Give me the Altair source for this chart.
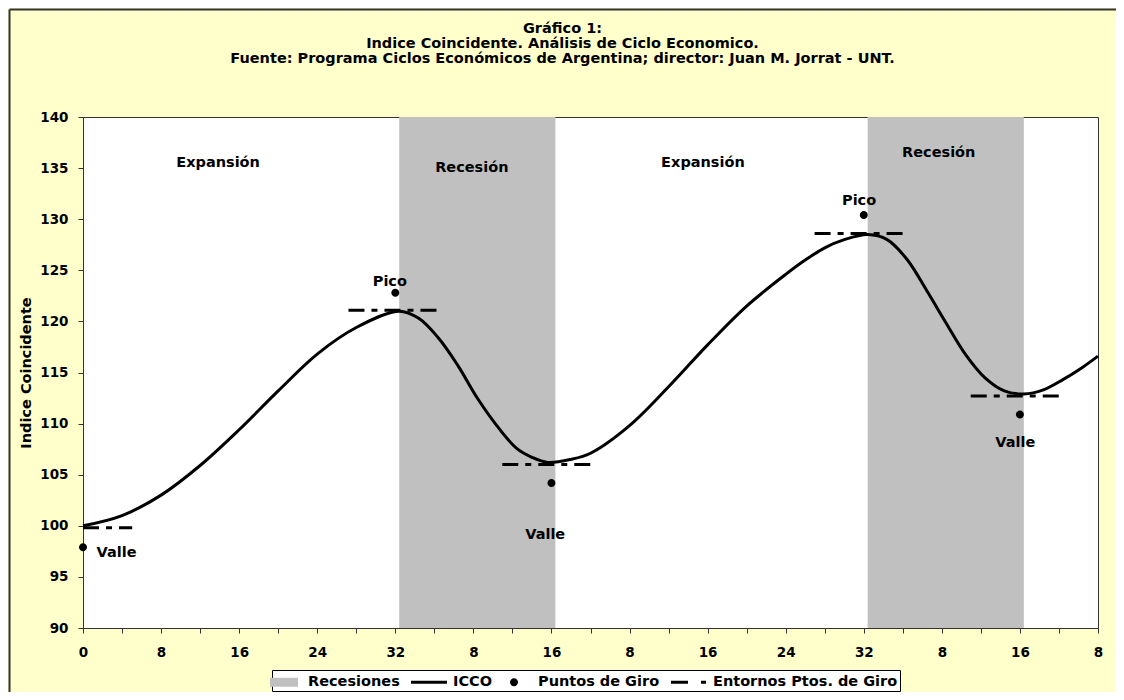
import altair as alt
import pandas as pd

FONT = "DejaVu Sans"

# ---- data ----
x_tick_labels = ["0", "8", "16", "24", "32", "8", "16", "8", "16", "24", "32", "8", "16", "8"]

icco_x = [0, 0.5, 1, 1.5, 2, 2.5, 3, 3.5, 4.05, 4.3, 4.55, 4.8, 5.05, 5.3, 5.55, 5.75, 5.95,
          6.25, 6.5, 7, 7.5, 8, 8.5, 9, 9.25, 9.5, 9.75, 10.05, 10.3, 10.55, 10.8, 11.05,
          11.3, 11.55, 11.8, 12.05, 12.3, 12.55, 12.8, 13]
icco_y = [100.0, 101.0, 103.0, 105.9, 109.4, 113.2, 116.8, 119.4, 121.0, 120.3, 118.4, 115.7,
          112.5, 109.8, 107.6, 106.7, 106.2, 106.5, 107.1, 109.8, 113.6, 117.7, 121.5, 124.6,
          126.0, 127.2, 128.0, 128.5, 128.0, 126.1, 123.1, 119.9, 116.8, 114.5, 113.2, 112.9,
          113.3, 114.3, 115.5, 116.6]

rec_start = [4.05, 10.05]
rec_end = [6.05, 12.05]

pts_x = [0, 4, 6, 10, 12]
pts_y = [97.9, 122.8, 104.2, 130.4, 110.9]

ent_x1 = [0, 3.4, 5.37, 9.37, 11.37]
ent_x2 = [0.63, 4.57, 6.57, 10.56, 12.57]
ent_y = [99.8, 121.1, 106.0, 128.6, 112.7]

phase_text = ["Expansión", "Recesión", "Expansión", "Recesión"]
phase_x = [1.73, 4.98, 7.94, 10.96]
phase_y = [135.5, 135.0, 135.5, 136.5]

tp_text = ["Valle", "Pico", "Valle", "Pico", "Valle"]
tp_x = [0.43, 3.93, 5.92, 9.94, 11.94]
tp_y = [97.3, 123.9, 99.1, 131.8, 108.1]

legend_names = ["Recesiones", "ICCO", "Puntos de Giro", "Entornos Ptos. de Giro"]
legend_colors = ["#C0C0C0", "#000000", "#000000", "#000000"]
legend_paths = [
    "M-1.4,-0.45H1.4V0.45H-1.4Z",
    "M-1.8,-0.15H1.8V0.15H-1.8Z",
    "M-0.4,0A0.4,0.4,0,1,0,0.4,0A0.4,0.4,0,1,0,-0.4,0Z",
    "M-1.8,-0.15H-0.1V0.15H-1.8Z M1.2,-0.15H1.7V0.15H1.2Z",
]

title_lines = [
    "Gráfico 1:",
    "Indice Coincidente. Análisis de Ciclo Economico.",
    "Fuente: Programa Ciclos Económicos de Argentina; director: Juan M. Jorrat - UNT.",
]

# ---- tables ----
bands = pd.DataFrame({"inicio": rec_start, "fin": rec_end})
icco = pd.DataFrame({"x": icco_x, "y": icco_y})
pts = pd.DataFrame({"x": pts_x, "y": pts_y, "serie": ["Puntos de Giro"] * len(pts_x)})
ent = pd.DataFrame({"x": ent_x1, "x2": ent_x2, "y": ent_y})
phases = pd.DataFrame({"x": phase_x, "y": phase_y, "t": phase_text})
tps = pd.DataFrame({"x": tp_x, "y": tp_y, "t": tp_text})
one = pd.DataFrame({"k": [0]})

W, H = 1015, 511

xs = alt.Scale(domain=[0, 13], nice=False, zero=False)
ys = alt.Scale(domain=[90, 140], nice=False, zero=False)

labels_js = "[" + ",".join("'" + s + "'" for s in x_tick_labels) + "]"
x_axis = alt.Axis(
    values=[i / 2 for i in range(27)],
    labelExpr=f"datum.value % 1 == 0 ? {labels_js}[datum.value] : ''",
    title=None, grid=False, tickSize=5, labelPadding=12, labelOverlap=False,
    labelFlush=False, labelBound=False,
)
y_axis = alt.Axis(
    values=list(range(90, 141, 5)), format="d", title="Indice Coincidente", grid=False,
    tickSize=5, labelPadding=10, titleX=-57, titleY=H / 2, titleAngle=270,
    titleAlign="center", titleBaseline="middle", labelOverlap=False,
)

X = lambda f: alt.X(f, scale=xs, axis=x_axis)
Y = lambda f: alt.Y(f, scale=ys, axis=y_axis)

band_layer = alt.Chart(bands).mark_rect(color="#C0C0C0").encode(
    x=X("inicio:Q"), x2="fin:Q"
)

phase_layer = alt.Chart(phases).mark_text(
    font=FONT, fontSize=14.5, fontWeight="bold", color="black"
).encode(x=X("x:Q"), y=Y("y:Q"), text="t:N")

ent_layer = alt.Chart(ent).mark_rule(
    color="black", strokeWidth=3, strokeDash=[16, 7, 6, 7]
).encode(x=X("x:Q"), x2="x2:Q", y=Y("y:Q"))

line_layer = alt.Chart(icco).mark_line(
    color="black", strokeWidth=3, interpolate="catmull-rom"
).encode(x=X("x:Q"), y=Y("y:Q"))

legend = alt.Legend(
    title=None, orient="none", legendX=189, legendY=553, direction="horizontal",
    columns=4, symbolSize=400, symbolStrokeWidth=0, symbolOpacity=1,
    labelFont=FONT, labelFontSize=14.5, labelFontWeight="bold", labelColor="black",
    labelOffset=14, columnPadding=11, padding=2, strokeColor="black",
    fillColor="white", cornerRadius=0, labelLimit=400,
)

pts_layer = alt.Chart(pts).mark_point(filled=True, size=400, opacity=1).encode(
    x=X("x:Q"), y=Y("y:Q"),
    color=alt.Color("serie:N", scale=alt.Scale(domain=legend_names, range=legend_colors), legend=legend),
    shape=alt.Shape("serie:N", scale=alt.Scale(domain=legend_names, range=legend_paths), legend=legend),
)

tp_layer = alt.Chart(tps).mark_text(
    font=FONT, fontSize=14.5, fontWeight="bold", color="black"
).encode(x=X("x:Q"), y=Y("y:Q"), text="t:N")

frame_top = alt.Chart(one).mark_rule(color="#333333", strokeWidth=2).encode(
    x=alt.value(-73.5), x2=alt.value(W + 18), y=alt.value(-107.5)
)
frame_left = alt.Chart(one).mark_rule(color="#333333", strokeWidth=2).encode(
    x=alt.value(-73.5), y=alt.value(-107.5), y2=alt.value(H + 64)
)

chart = alt.layer(
    band_layer, phase_layer, ent_layer, line_layer, pts_layer, tp_layer, frame_top, frame_left
).properties(
    width=W, height=H,
    autosize=alt.AutoSizeParams(type="none"),
    padding={"left": 75, "top": 109, "right": 18, "bottom": 64},
    background="#FFFFCC",
    title=alt.TitleParams(
        text=title_lines, font=FONT, fontSize=14.5, fontWeight="bold", color="black",
        anchor="middle", dx=-28, offset=-57.5, lineHeight=15,
    ),
).configure_view(
    fill="white", stroke="#333333", strokeWidth=1
).configure_axis(
    domainColor="#333333", tickColor="#333333", labelFont=FONT, labelFontWeight="bold",
    labelColor="black", labelFontSize=13.5, titleFont=FONT, titleFontWeight="bold",
    titleColor="black", titleFontSize=14.5,
)

chart.save("out.html", embed_options={"renderer": "svg", "actions": False})
